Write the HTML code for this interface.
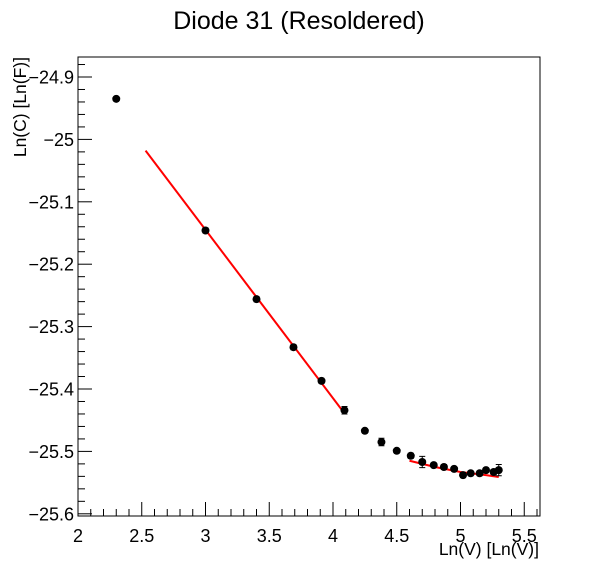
<!DOCTYPE html>
<html><head><meta charset="utf-8"><style>
body{margin:0;background:#fff}
svg{display:block;font-family:"Liberation Sans",sans-serif}
</style></head><body>
<svg id="c" width="598" height="574" xmlns="http://www.w3.org/2000/svg">
<text x="299" y="29" font-size="25" text-anchor="middle">Diode 31 (Resoldered)</text>
<rect x="78" y="57" width="462" height="459" fill="none" stroke="#000" stroke-width="1"/>
<g id="axes"></g>
<g id="fits"></g>
<g id="pts"></g>
<text x="539" y="555" font-size="17.5" text-anchor="end">Ln(V) [Ln(V)]</text>
<text transform="translate(26,57) rotate(-90)" font-size="17.5" text-anchor="end">Ln(C) [Ln(F)]</text>
</svg>
<script>
const xs=[2.3,3.0,3.4,3.69,3.91,4.09,4.25,4.38,4.5,4.61,4.70,4.79,4.87,4.95,5.02,5.08,5.15,5.20,5.26,5.30];
const ys=[-24.935,-25.146,-25.256,-25.333,-25.387,-25.434,-25.467,-25.485,-25.499,-25.507,-25.517,-25.522,-25.525,-25.528,-25.538,-25.535,-25.535,-25.530,-25.533,-25.530];
const errs=[0.002,0.004,0.004,0.004,0.004,0.006,0.003,0.006,0.003,0.004,0.009,0.003,0.004,0.003,0.004,0.003,0.003,0.003,0.004,0.009];
const fit1X=[2.53,4.09];
const fit1Y=[-25.018,-25.439];
const fit2X=[4.6,4.8,5.0,5.2,5.3];
const fit2Y=[-25.515,-25.525,-25.533,-25.538,-25.541];
const xTicks=[2,2.5,3,3.5,4,4.5,5,5.5];
const xTickLabels=["2","2.5","3","3.5","4","4.5","5","5.5"];
const yTicks=[-24.9,-25,-25.1,-25.2,-25.3,-25.4,-25.5,-25.6];
const yTickLabels=["\u221224.9","\u221225","\u221225.1","\u221225.2","\u221225.3","\u221225.4","\u221225.5","\u221225.6"];
const NS="http://www.w3.org/2000/svg";
const X=v=>78+(v-2)*127.5;
const Y=v=>77+(-24.9-v)*624;
function mk(t,a,p){const e=document.createElementNS(NS,t);for(const k in a)e.setAttribute(k,a[k]);p.appendChild(e);return e;}
const ax=document.getElementById('axes');
for(let i=0;i<=36;i++){const v=2+i*0.1;const px=X(v);if(px>540)break;const maj=i%5===0;
 const t=mk('line',{x1:px,x2:px,y1:516,y2:516-(maj?14:7),stroke:'#000'},ax);
 
 }
xTicks.forEach((v,i)=>{const t=mk('text',{x:X(v),y:542,'font-size':18,'text-anchor':'middle'},ax);t.textContent=xTickLabels[i];
 
 });
for(let i=-1;i<=36;i++){const v=-24.9-i*0.02;const py=Y(v);if(py<57||py>516)continue;const maj=((i%5)+5)%5===0;
 const t=mk('line',{x1:78,x2:78+(maj?14:7),y1:py,y2:py,stroke:'#000'},ax);
 
 }
yTicks.forEach((v,i)=>{const t=mk('text',{x:74,y:Y(v)+6.5,'font-size':18,'text-anchor':'end'},ax);t.textContent=yTickLabels[i];
 
 });
const fg=document.getElementById('fits');
const l1=mk('polyline',{points:fit1X.map((x,i)=>X(x)+','+Y(fit1Y[i])).join(' '),fill:'none',stroke:'#f00','stroke-width':2},fg);


const l2=mk('polyline',{points:fit2X.map((x,i)=>X(x)+','+Y(fit2Y[i])).join(' '),fill:'none',stroke:'#f00','stroke-width':2},fg);


const pg=document.getElementById('pts');
xs.forEach((x,i)=>{const px=X(x),py=Y(ys[i]);const d=errs[i]*624;
 const e=mk('path',{d:`M${px},${py-d}V${py+d}M${px-3},${py-d}H${px+3}M${px-3},${py+d}H${px+3}`,stroke:'#000','stroke-width':1,fill:'none'},pg);
 
 
 const c=mk('circle',{cx:px,cy:py,r:4,fill:'#000'},pg);
 
 });
</script>
</body></html>
